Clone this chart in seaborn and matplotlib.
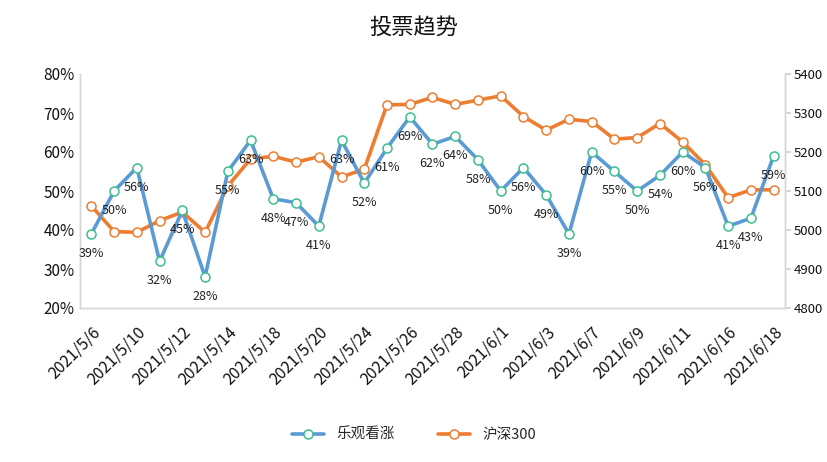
import matplotlib
matplotlib.use("Agg")
import matplotlib.pyplot as plt
import seaborn as sns
import pandas as pd
from matplotlib.ticker import FuncFormatter

dates = ["2021/5/6", "2021/5/7", "2021/5/10", "2021/5/11", "2021/5/12", "2021/5/13",
         "2021/5/14", "2021/5/17", "2021/5/18", "2021/5/19", "2021/5/20", "2021/5/21",
         "2021/5/24", "2021/5/25", "2021/5/26", "2021/5/27", "2021/5/28", "2021/5/31",
         "2021/6/1", "2021/6/2", "2021/6/3", "2021/6/4", "2021/6/7", "2021/6/8",
         "2021/6/9", "2021/6/10", "2021/6/11", "2021/6/15", "2021/6/16", "2021/6/17",
         "2021/6/18"]
bullish = [39, 50, 56, 32, 45, 28, 55, 63, 48, 47, 41, 63, 52, 61, 69, 62, 64, 58,
           50, 56, 49, 39, 60, 55, 50, 54, 60, 56, 41, 43, 59]
hs300 = [5062, 4996, 4994, 5024, 5046, 4994, 5113, 5182, 5189, 5174, 5188, 5136,
         5156, 5321, 5322, 5340, 5322, 5333, 5344, 5291, 5256, 5284, 5278, 5233,
         5237, 5273, 5226, 5167, 5083, 5103, 5103]
name_a = "乐观看涨"
name_b = "沪深300"
title = "投票趋势"

sns.set_theme(style="white")
plt.rcParams['font.family'] = ['Noto Sans CJK SC', 'DejaVu Sans']

df = pd.DataFrame({"idx": range(len(dates)), "date": dates, "a": bullish, "b": hs300})

fig = plt.figure(figsize=(8.28, 4.62), dpi=100)
ax = fig.add_axes([80/828, 1-308/462, 705/828, 234/462])
ax2 = ax.twinx()

blue = "#5B9BD5"
orange = "#ED7D31"
green_edge = "#3DBE8F"

sns.lineplot(data=df, x="idx", y="a", ax=ax, color=blue, linewidth=2.6,
             marker="o", markersize=6.5, markerfacecolor="white",
             markeredgecolor=green_edge, markeredgewidth=1.1, zorder=3, label=name_a)
sns.lineplot(data=df, x="idx", y="b", ax=ax2, color=orange, linewidth=2.6,
             marker="o", markersize=6.5, markerfacecolor="white",
             markeredgecolor=orange, markeredgewidth=1.1, zorder=3, label=name_b)

ax.set_ylim(20, 80)
ax2.set_ylim(4800, 5400)
ax.set_xlim(-0.5, len(dates) - 0.5)
ax.set_yticks(range(20, 81, 10))
ax.yaxis.set_major_formatter(FuncFormatter(lambda v, p: f"{int(v)}%"))
ax2.set_yticks(range(4800, 5401, 100))

ax.set_xticks(df["idx"][::2])
ax.set_xticklabels(df["date"][::2], rotation=45, ha="right", rotation_mode="anchor",
                   fontsize=11.5, color="#111")
ax.tick_params(axis="x", length=0, pad=11)
ax.tick_params(axis="y", length=0, labelsize=11, colors="#111", pad=4)
ax2.tick_params(axis="y", length=4, labelsize=9.5, colors="#111", pad=2, color="#d0d0d0")
ax.set_xlabel("")
ax.set_ylabel("")
ax2.set_ylabel("")

for a in (ax, ax2):
    a.spines["top"].set_visible(False)
    for s in ("left", "right", "bottom"):
        a.spines[s].set_color("#d6d6d6")
        a.spines[s].set_linewidth(1.0)

ax.set_zorder(ax2.get_zorder() + 1)
ax.patch.set_visible(False)

for i, v in enumerate(bullish):
    ax.annotate(f"{v}%", (i, v), xytext=(0, -14), textcoords="offset points",
                ha="center", va="center", fontsize=9, color="#222", zorder=5)

h1, l1 = ax.get_legend_handles_labels()
h2, l2 = ax2.get_legend_handles_labels()
if ax.get_legend():
    ax.get_legend().remove()
if ax2.get_legend():
    ax2.get_legend().remove()
fig.legend(h1 + h2, l1 + l2, loc="center", bbox_to_anchor=(0.5, 1-435/462), ncol=2,
           frameon=False, fontsize=10.5, handlelength=2.2, columnspacing=3.0)

fig.text(0.5, 1-27/462, title, ha="center", va="center", fontsize=16, color="#111")

fig.savefig("out.png", dpi=100)
